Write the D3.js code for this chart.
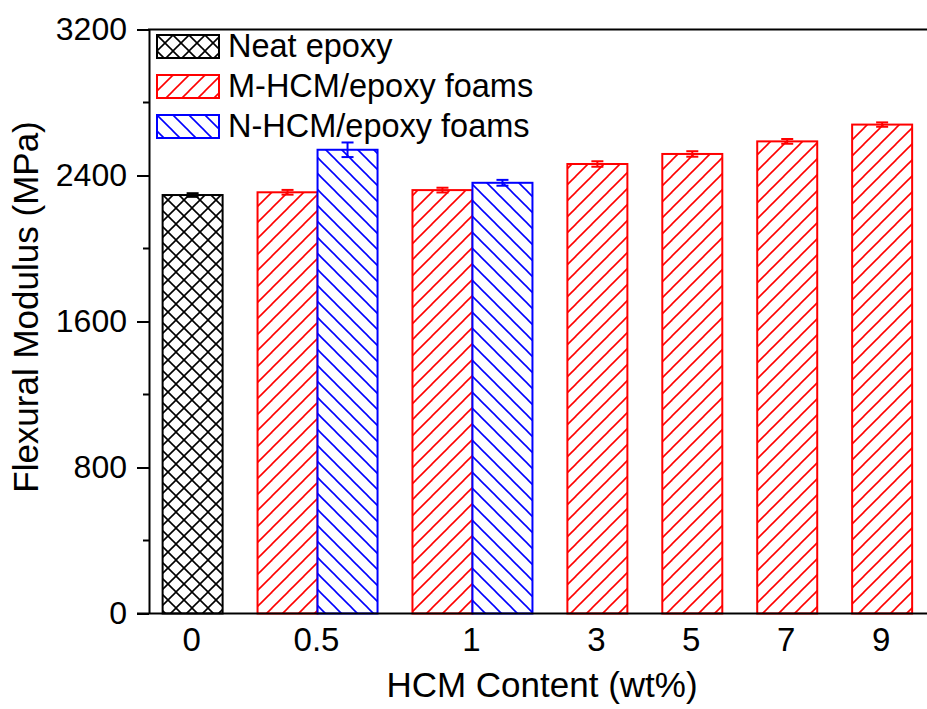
<!DOCTYPE html>
<html>
<head>
<meta charset="utf-8">
<script src="https://cdn.jsdelivr.net/npm/d3@7"></script>
<style>
  html, body { margin: 0; padding: 0; background: #fff; }
  svg { display: block; font-family: "Liberation Sans", Arial, sans-serif; }
</style>
</head>
<body>
<svg id="chart" width="927" height="709"></svg>
<script>
// HCM content groups (wt%)
const categories = ["0", "0.5", "1", "3", "5", "7", "9"];

// Flexural modulus (MPa) per series; null where a series has no sample
const neatValues = [2293, null, null, null, null, null, null];
const mValues    = [null, 2308, 2320, 2463, 2518, 2587, 2679];
const nValues    = [null, 2541, 2360, null, null, null, null];

// Standard deviations (MPa)
const neatErrors = [10, null, null, null, null, null, null];
const mErrors    = [null, 13, 13, 15, 15, 13, 12];
const nErrors    = [null, 40, 16, null, null, null, null];

const seriesNames = ["Neat epoxy", "M-HCM/epoxy foams", "N-HCM/epoxy foams"];
const yTicks = [0, 800, 1600, 2400, 3200];
const yMinorTicks = [400, 1200, 2000, 2800];

const series = [
  { name: seriesNames[0], values: neatValues, errors: neatErrors, color: "#000000", pattern: "hatch-cross" },
  { name: seriesNames[1], values: mValues,    errors: mErrors,    color: "#ff0000", pattern: "hatch-up" },
  { name: seriesNames[2], values: nValues,    errors: nErrors,    color: "#0000ff", pattern: "hatch-down" }
];

const svg = d3.select("#chart");
const plotLeft = 149, plotTop = 29.5, plotBottom = 613.5;

// Layout in bar-width units: side padding, one unit per bar, gap between groups
const sidePad = 0.227, groupGap = 0.582;
const groups = categories.map((c, i) => ({
  label: c,
  bars: series.filter(s => s.values[i] != null).map(s => ({ s, v: s.values[i], e: s.errors[i] }))
}));
let cursor = sidePad;
groups.forEach((g, gi) => {
  if (gi > 0) cursor += groupGap;
  g.start = cursor;
  g.bars.forEach((b, bi) => { b.x0 = cursor + bi; });
  cursor += g.bars.length;
  g.center = (g.start + cursor) / 2;
});
const totalUnits = cursor + 0.3;

const x = d3.scaleLinear().domain([0, totalUnits]).range([plotLeft, plotLeft + totalUnits * 60]);
const y = d3.scaleLinear().domain([0, 3200]).range([plotBottom, plotTop]);
const unit = x(1) - x(0);

// Hatch patterns
const defs = svg.append("defs");
function hatch(id, color, period, paths) {
  const p = defs.append("pattern").attr("id", id)
    .attr("patternUnits", "userSpaceOnUse")
    .attr("width", period).attr("height", period);
  p.append("rect").attr("width", period).attr("height", period).attr("fill", "#fff");
  paths.forEach(d => p.append("path").attr("d", d)
    .attr("stroke", color).attr("stroke-width", 1.6).attr("fill", "none"));
}
const pu = 16, pc = 16;
hatch("hatch-up", "#ff0000", pu, [`M0,${pu} L${pu},0`, `M${-pu/2},${pu/2} L${pu/2},${-pu/2}`, `M${pu/2},${1.5*pu} L${1.5*pu},${pu/2}`]);
hatch("hatch-down", "#0000ff", pu, [`M0,0 L${pu},${pu}`, `M${-pu/2},${pu/2} L${pu/2},${1.5*pu}`, `M${pu/2},${-pu/2} L${1.5*pu},${pu/2}`]);
hatch("hatch-cross", "#000000", pc, [
  `M0,${pc} L${pc},0`, `M${-pc/2},${pc/2} L${pc/2},${-pc/2}`, `M${pc/2},${1.5*pc} L${1.5*pc},${pc/2}`,
  `M0,0 L${pc},${pc}`, `M${-pc/2},${pc/2} L${pc/2},${1.5*pc}`, `M${pc/2},${-pc/2} L${1.5*pc},${pc/2}`
]);

// Bars
const allBars = groups.flatMap(g => g.bars);
svg.append("g").selectAll("rect").data(allBars).join("rect")
  .attr("x", d => x(d.x0))
  .attr("y", d => y(d.v))
  .attr("width", unit)
  .attr("height", d => y(0) - y(d.v))
  .attr("fill", d => `url(#${d.s.pattern})`)
  .attr("stroke", d => d.s.color)
  .attr("stroke-width", 2);

// Error bars
const capW = 12;
const eb = svg.append("g").selectAll("g").data(allBars).join("g")
  .attr("stroke", d => d.s.color).attr("stroke-width", 2);
eb.append("line")
  .attr("x1", d => x(d.x0 + 0.5)).attr("x2", d => x(d.x0 + 0.5))
  .attr("y1", d => y(d.v + d.e)).attr("y2", d => y(d.v - d.e));
eb.append("line")
  .attr("x1", d => x(d.x0 + 0.5) - capW / 2).attr("x2", d => x(d.x0 + 0.5) + capW / 2)
  .attr("y1", d => y(d.v + d.e)).attr("y2", d => y(d.v + d.e));
eb.append("line")
  .attr("x1", d => x(d.x0 + 0.5) - capW / 2).attr("x2", d => x(d.x0 + 0.5) + capW / 2)
  .attr("y1", d => y(d.v - d.e)).attr("y2", d => y(d.v - d.e));

// Y axis with major and minor ticks
const yAxis = svg.append("g").attr("transform", `translate(${plotLeft},0)`)
  .call(d3.axisLeft(y).tickValues(yTicks).tickFormat(d3.format("d"))
    .tickSize(12).tickPadding(10).tickSizeOuter(0));
yAxis.selectAll("text").attr("font-size", 32).attr("fill", "#000")
  .attr("font-family", "Liberation Sans, Arial, sans-serif");
yAxis.selectAll("line, path").attr("stroke", "#000").attr("stroke-width", 2);
svg.append("g").selectAll("line").data(yMinorTicks).join("line")
  .attr("x1", plotLeft - 6).attr("x2", plotLeft)
  .attr("y1", d => y(d)).attr("y2", d => y(d))
  .attr("stroke", "#000").attr("stroke-width", 2);

// X axis line, top frame line and category labels
const xRight = x.range()[1];
svg.append("line").attr("x1", plotLeft - 12).attr("x2", xRight)
  .attr("y1", y(0)).attr("y2", y(0)).attr("stroke", "#000").attr("stroke-width", 2);
svg.append("line").attr("x1", plotLeft - 1).attr("x2", xRight)
  .attr("y1", y(3200)).attr("y2", y(3200)).attr("stroke", "#000").attr("stroke-width", 2);
svg.append("g").selectAll("text").data(groups).join("text")
  .attr("x", d => x(d.center) - 1).attr("y", 651)
  .attr("text-anchor", "middle").attr("font-size", 33).attr("fill", "#000")
  .text(d => d.label);

// Axis titles
svg.append("text").attr("x", 542).attr("y", 697)
  .attr("text-anchor", "middle").attr("font-size", 35).attr("fill", "#000")
  .text("HCM Content (wt%)");
svg.append("text").attr("transform", "translate(38,307) rotate(-90)")
  .attr("text-anchor", "middle").attr("font-size", 35).attr("fill", "#000")
  .text("Flexural Modulus (MPa)");

// Legend
const legend = svg.append("g").selectAll("g").data(series).join("g")
  .attr("transform", (d, i) => `translate(157,${35 + i * 40})`);
legend.append("rect").attr("width", 62).attr("height", 23)
  .attr("fill", d => `url(#${d.pattern})`).attr("stroke", d => d.color).attr("stroke-width", 2);
legend.append("text").attr("x", 71).attr("y", 21.5)
  .attr("font-size", 32.5).attr("fill", "#000").text(d => d.name);
</script>
</body>
</html>
